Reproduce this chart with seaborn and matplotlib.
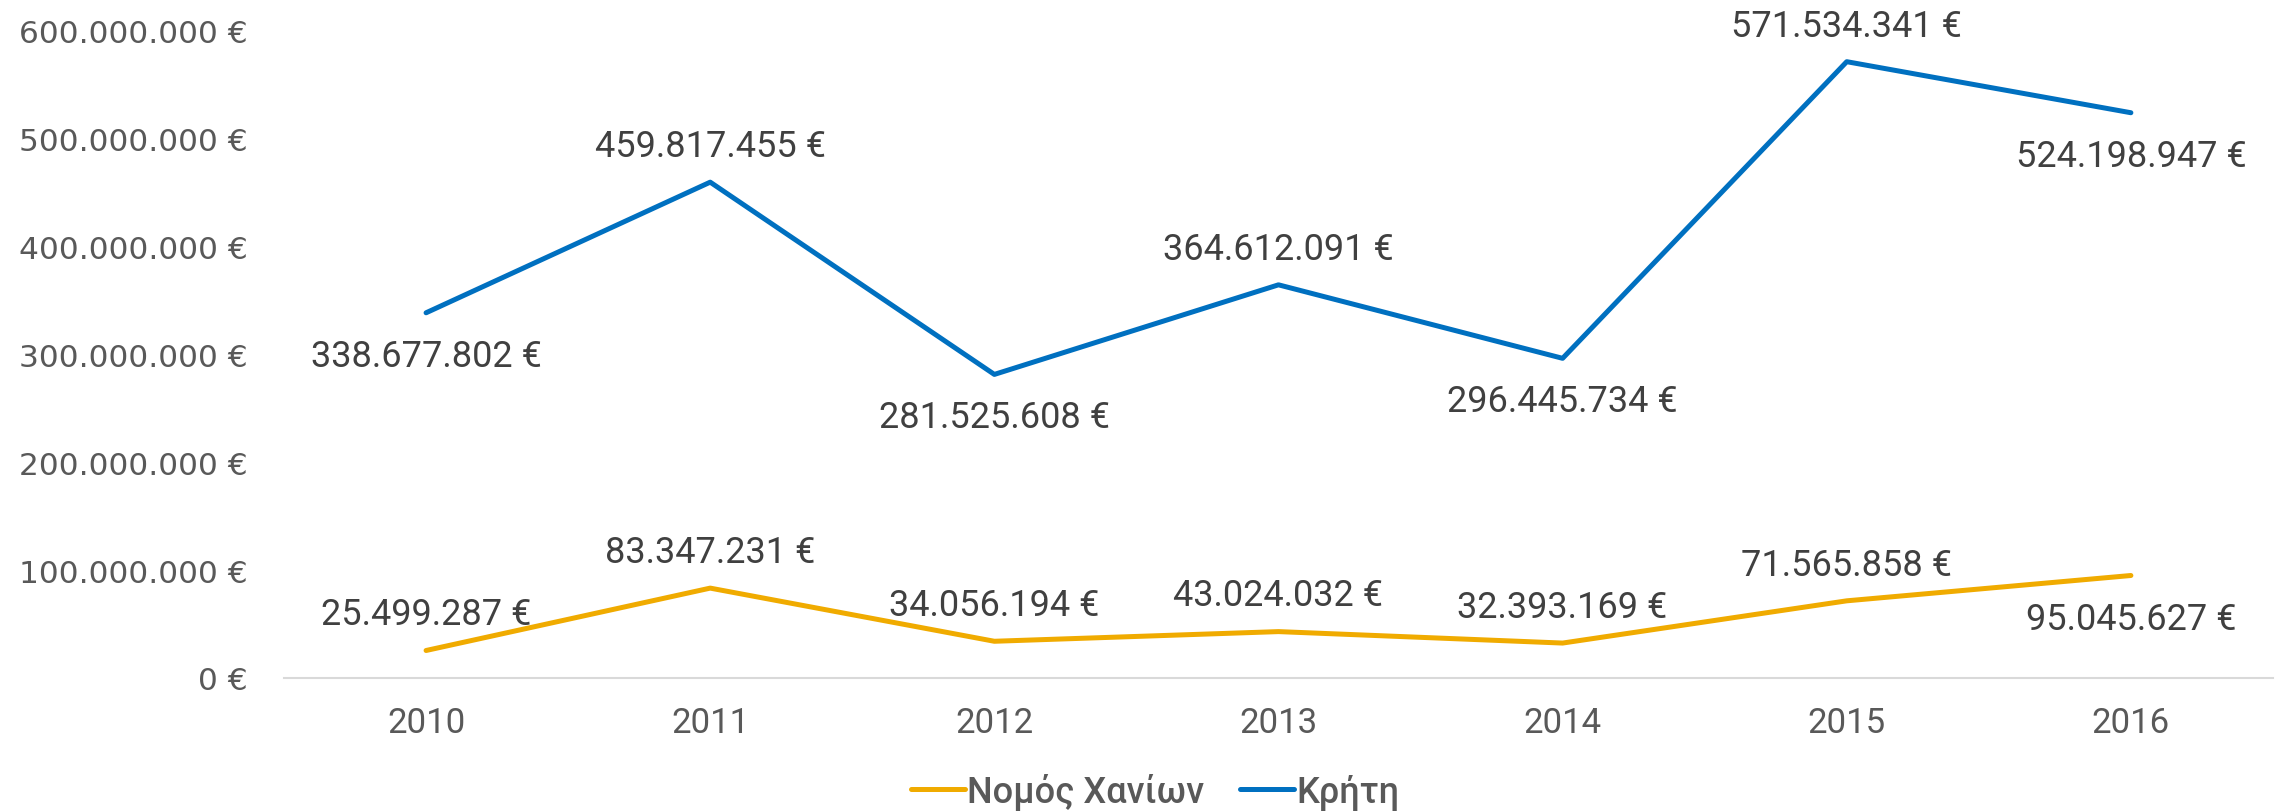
import matplotlib
matplotlib.use("Agg")
import matplotlib.pyplot as plt
import seaborn as sns
import pandas as pd

# data
years = [2010, 2011, 2012, 2013, 2014, 2015, 2016]
chania = [25499287, 83347231, 34056194, 43024032, 32393169, 71565858, 95045627]
kriti = [338677802, 459817455, 281525608, 364612091, 296445734, 571534341, 524198947]
series_names = ["Νομός Χανίων", "Κρήτη"]
y_ticks = [0, 100000000, 200000000, 300000000, 400000000, 500000000, 600000000]

colors = {"Νομός Χανίων": "#F0AB00", "Κρήτη": "#0070C0"}

df = pd.DataFrame({
    "year": years * 2,
    "value": chania + kriti,
    "series": [series_names[0]] * len(years) + [series_names[1]] * len(years),
})


def euro(v):
    return f"{int(v):,}".replace(",", ".") + " €"


sns.set_style("white")
plt.rcParams["font.family"] = ["Roboto", "DejaVu Sans"]

fig = plt.figure(figsize=(22.83, 8.12), dpi=100)
ax = fig.add_axes([0.1244, 0.1638, 0.8712, 0.7968])

sns.lineplot(data=df, x="year", y="value", hue="series", palette=colors,
             linewidth=3.6, ax=ax, legend=False, solid_capstyle="round")

ax.set_xlim(2009.5, 2016.5)
ax.set_ylim(0, 600000000)
ax.set_xticks(years)
ax.set_xticklabels([str(y) for y in years], fontsize=25, color="#595959")
ax.set_yticks(y_ticks)
ax.set_yticklabels([euro(v) for v in y_ticks], fontsize=22.5, color="#595959",
                   family="DejaVu Sans")
ax.tick_params(axis="x", length=0, pad=20)
ax.tick_params(axis="y", length=0, pad=26)
ax.set_xlabel("")
ax.set_ylabel("")
for s in ["top", "right", "left"]:
    ax.spines[s].set_visible(False)
ax.spines["bottom"].set_color("#D9D9D9")
ax.spines["bottom"].set_linewidth(1.5)

# data labels: +1 above, -1 below
chania_side = [1, 1, 1, 1, 1, 1, -1]
kriti_side = [-1, 1, -1, 1, -1, 1, -1]
for vals, sides in [(chania, chania_side), (kriti, kriti_side)]:
    for x, v, s in zip(years, vals, sides):
        off = 26 if s > 0 else -31
        ax.annotate(euro(v), (x, v), xytext=(0, off), textcoords="offset points",
                    ha="center", va="center", fontsize=26, color="#404040")

handles = [plt.Line2D([], [], color=colors[n], linewidth=3.6, solid_capstyle="round")
           for n in series_names]
fig.legend(handles, series_names, loc="center", bbox_to_anchor=(0.506, 0.0246),
           ncol=2, frameon=False, handlelength=1.5, handletextpad=0.05,
           columnspacing=1.0, prop={"family": "Roboto", "size": 26, "weight": "medium"},
           labelcolor="#595959")

fig.savefig("out.png", dpi=100)
